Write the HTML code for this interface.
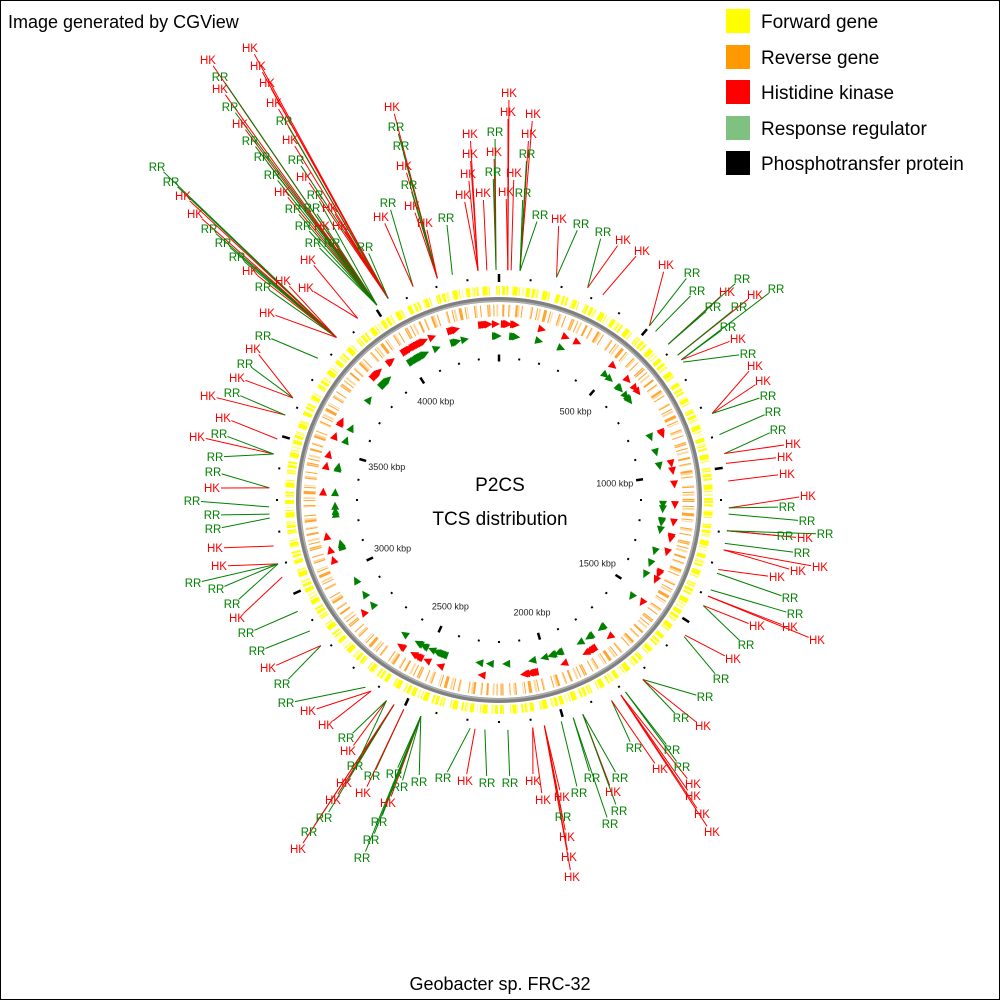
<!DOCTYPE html>
<html><head><meta charset="utf-8"><style>
html,body{margin:0;padding:0;background:#fff}
svg{display:block}
text{font-family:"Liberation Sans","DejaVu Sans",sans-serif}
</style></head><body>
<svg id="map" width="1000" height="1000" viewBox="0 0 1000 1000" xmlns="http://www.w3.org/2000/svg">
<rect x="0.5" y="0.5" width="999" height="999" fill="#fff" stroke="#000" stroke-width="1"/>
<text x="8" y="28" font-size="18" fill="#000">Image generated by CGView</text>
<g>
<rect x="726" y="9" width="24" height="24" fill="#ffff00"/>
<text x="761" y="28" font-size="19">Forward gene</text>
<rect x="726" y="45" width="24" height="24" fill="#ff9900"/>
<text x="761" y="64" font-size="19">Reverse gene</text>
<rect x="726" y="80" width="24" height="24" fill="#ff0000"/>
<text x="761" y="99" font-size="19">Histidine kinase</text>
<rect x="726" y="116" width="24" height="24" fill="#80c080"/>
<text x="761" y="135" font-size="19">Response regulator</text>
<rect x="726" y="151" width="24" height="24" fill="#000"/>
<text x="761" y="170" font-size="19">Phosphotransfer protein</text>
</g>
<g>
<circle cx="499" cy="500" r="209.5" fill="none" stroke="#ffff00" stroke-width="9" stroke-dasharray="3 1.5 2 4 5 1.5 1 6 4 2"/>
<circle cx="499" cy="500" r="209.5" fill="none" stroke="#ffff90" stroke-width="9" stroke-dasharray="1 9 2 13"/>
<circle cx="499" cy="500" r="189.5" fill="none" stroke="#ffa530" stroke-width="12" stroke-dasharray="2 4 1 6 3 3 1 8"/>
<circle cx="499" cy="500" r="189.5" fill="none" stroke="#ffd8a0" stroke-width="12" stroke-dasharray="1 7 2 11"/>
<circle cx="499" cy="500" r="200.5" fill="none" stroke="#808080" stroke-width="5"/>
<circle cx="499" cy="500" r="199" fill="none" stroke="#b0b0b0" stroke-width="1.5"/>
</g>
<g id="ticks"></g>
<g id="lines"></g>
<g id="labels"></g>
<g id="markers"></g>
<text x="500" y="491" font-size="19" text-anchor="middle">P2CS</text>
<text x="500" y="525" font-size="19" text-anchor="middle">TCS distribution</text>
<text x="500" y="990" font-size="18" text-anchor="middle">Geobacter sp. FRC-32</text>
</svg>
<script>
const genomeKbp = 4400;
const tickStepKbp = 100;
const majorTickKbp = [500,1000,1500,2000,2500,3000,3500,4000];
const bundleKbp = [4048,4008,3937,3850,4210,4132,4257,27,64,4336,4363,4391,37,177,277,328,499,524,579,623,641,650,830,898,958,988,1042,1124,1143,1194,1233,1253,1315,1327,1381,1402,1434,1540,1545,1727,1792,1809,1842,1939,1970,2008,2097,2061,2173,2243,2273,2288,2443,2499,2532,2558,2613,2634,2820,2876,2946,3061,3103,3159,3245,3257,3279,3337,3441,3488,3565,3622,3765];
const bundleLabels = [
"H250,48 H258,66 H267,83 H274,103 R284,121 H290,140 R296,160 H304,177 H330,208 H340,226 R365,247",
"H208,60 R220,77 H220,89 R230,107 H240,124 R250,141 R262,157 R272,175 H282,192 R293,209 R315,195 R312,208 H322,226 R303,226 R313,243 R332,243",
"H308,260 H306,288",
"R157,167 R171,182 H183,196 H195,214 R209,229 R223,243 R237,257 H250,271 R263,287 H283,281 H267,313",
"H392,107 R396,127 R401,146 H404,166 R409,185 H412,206 H425,223",
"R388,203 H381,217","R446,218",
"H509,93 H508,112 H506,192",
"H533,114 H529,134 R527,154 R523,193 R540,215",
"H470,134 H470,154 H468,174 H463,195","H483,193","R495,132 H494,152 R493,172","H514,173",
"H559,219 R581,224","R603,232 H623,240","H642,251","H666,265 R692,273","R697,291",
"H727,292 R742,279 R713,307","H755,295 R739,307","R776,289 R728,327 H738,339","R748,354",
"H755,366 H763,381 R768,396","R773,412","R778,430 H793,444","H785,457","H787,474",
"H808,496 R787,507","R807,521","R785,536 H805,538 R825,534","R802,553","H820,567 H798,571",
"H777,577","R790,598","R795,614","H790,627 H817,640","H757,626 R746,645","H733,659","R721,679",
"R705,697 R681,718 H703,726","R672,750 R682,767","H693,784 H693,796 H702,814 H712,832",
"R634,748 H660,769","R620,778 H613,792 R619,811","R592,778 R610,824","R579,793",
"H533,781 H543,800","H562,797 R563,817 H567,837 H569,857 H572,877",
"R510,783","R487,783","H465,781","R443,778",
"R419,782 R400,787 R394,774 H388,803 R379,822 R371,840 R362,858",
"R372,776 H363,793","H344,783 H333,800 R324,818 R309,832 H298,849",
"R355,766 H348,751 R346,738","H326,725 H308,711","R286,703","R282,684 H268,668",
"R257,651","R246,633","H237,618","H219,566 R193,583 R216,589 R232,604","H215,548",
"R213,529","R212,515","R192,501","R213,472 H212,488","H197,437 R219,434 R215,457",
"H223,418","H208,396 R232,393","H253,349 R245,364 H237,378","R263,336"
];
const CX = 499, CY = 500, NS = "http://www.w3.org/2000/svg";
function angleOf(kbp){ return kbp / genomeKbp * 2 * Math.PI; }
function polar(kbp, r){ const a = angleOf(kbp); return [CX + r*Math.sin(a), CY - r*Math.cos(a)]; }
function mk(tag, attrs, parent){ const e = document.createElementNS(NS, tag); for (const k in attrs) e.setAttribute(k, attrs[k]); parent.appendChild(e); return e; }
const gT = document.getElementById('ticks'), gL = document.getElementById('lines'), gX = document.getElementById('labels'), gM = document.getElementById('markers');
for (let k = 0; k < genomeKbp; k += tickStepKbp) {
  const major = majorTickKbp.includes(k) || k === 0;
  [[142, major ? 7 : 2], [222, major ? 8 : 2]].forEach(function(p){
    const a = polar(k, p[0] - p[1]/2), b = polar(k, p[0] + p[1]/2);
    const t = mk('line', {x1:a[0], y1:a[1], x2:b[0], y2:b[1], stroke:'#000', 'stroke-width': major ? 2.5 : 2}, gT);
    
    
  });
}
majorTickKbp.forEach(function(k){
  const p = polar(k, 117);
  const t = mk('text', {x:p[0], y:p[1]+3, 'font-size':9, 'text-anchor':'middle', fill:'#222'}, gT);
  t.textContent = k + ' kbp';
  
  
});
bundleKbp.forEach(function(kbp, i){
  const anchor = polar(kbp, 230);
  let nh = 0, nr = 0;
  bundleLabels[i].split(' ').forEach(function(tok){
    const type = tok[0], xy = tok.slice(1).split(',').map(Number);
    const col = type === 'H' ? '#ff0000' : '#008000';
    const dx = xy[0] - anchor[0], dy = xy[1] - anchor[1], d = Math.hypot(dx, dy) || 1;
    const ex = xy[0] - dx/d*9, ey = xy[1] - dy/d*7;
    const ln = mk('line', {x1:anchor[0], y1:anchor[1], x2:ex, y2:ey, stroke:col, 'stroke-width':1}, gL);
    
    
    const tx = mk('text', {x:xy[0], y:xy[1]+4, 'font-size':11.5, 'text-anchor':'middle', fill:col}, gX);
    tx.textContent = type === 'H' ? 'HK' : 'RR';
    
    
    const idx = type === 'H' ? nh++ : nr++;
    const mkbp = kbp + (idx - 0.5) * 7;
    const r = type === 'H' ? 176 : 164;
    const c = polar(mkbp, r), a = angleOf(mkbp);
    const tx1 = Math.cos(a), ty1 = Math.sin(a), nx = Math.sin(a), ny = -Math.cos(a);
    const s = 4;
    const pts = [[c[0]+tx1*s, c[1]+ty1*s],[c[0]-tx1*s+nx*s, c[1]-ty1*s+ny*s],[c[0]-tx1*s-nx*s, c[1]-ty1*s-ny*s]];
    const m = mk('polygon', {points: pts.map(function(p){return p[0].toFixed(1)+','+p[1].toFixed(1);}).join(' '), fill: type === 'H' ? '#ff0000' : '#008000'}, gM);
    
    
  });
});
</script>
</body></html>
